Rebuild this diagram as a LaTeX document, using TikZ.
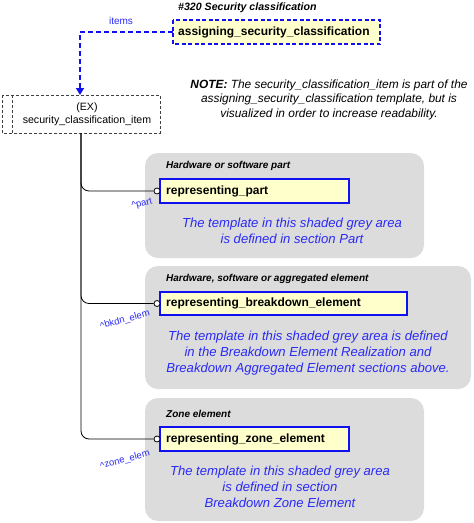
\documentclass[tikz,border=0pt]{standalone}
\usepackage{fontspec}
\setmainfont{Liberation Sans}
\usetikzlibrary{arrows.meta}
\definecolor{areagrey}{HTML}{DCDCDC}
\definecolor{boxyellow}{HTML}{FFFFCC}
\definecolor{boxblue}{HTML}{1010F0}
\definecolor{txtblue}{HTML}{2A2AF5}
\definecolor{dashgrey}{HTML}{404040}
\tikzset{
  area/.style={fill=areagrey, draw=none, rounded corners=13pt},
  tbox/.style={draw=boxblue, line width=1.2pt, fill=boxyellow, inner sep=0pt, anchor=north west},
  tboxtext/.style={anchor=west, font=\bfseries\fontsize{12}{14}\selectfont, inner sep=0pt},
  areatitle/.style={anchor=west, font=\bfseries\itshape\fontsize{10}{12}\selectfont, inner sep=0pt},
  bluenote/.style={align=center, text=txtblue, font=\itshape\fontsize{13.1}{16}\selectfont, inner sep=0pt},
  rolelabel/.style={text=txtblue, font=\fontsize{9.5}{11}\selectfont, inner sep=0pt, rotate=15},
  link/.style={draw=black, line width=0.8pt, rounded corners=8pt},
  endcirc/.style={circle, draw=black, fill=white, line width=0.8pt, minimum size=6pt, inner sep=0pt},
}
\begin{document}
\begin{tikzpicture}[x=1pt,y=-1pt]
\useasboundingbox (0,0) rectangle (474,523);
% grey areas
\fill[area] (145,153) rectangle (424,258);
\fill[area] (145,266) rectangle (471,389);
\fill[area] (145,398) rectangle (424,521);
% title
\node[anchor=west, inner sep=0pt, font=\bfseries\itshape\fontsize{10.6}{12}\selectfont] (title) at (178,8) {\#320 Security classification};
% top template box
\draw[draw=boxblue, line width=1.2pt, dashed, dash pattern=on 4pt off 2.5pt, fill=boxyellow] (173,20) rectangle (380,44);
\coordinate (asc) at (173,32);
\node[tboxtext] (asctext) at (178,32) {assigning\_security\_classification};
% items label
\node[text=txtblue, font=\fontsize{10}{12}\selectfont, inner sep=0pt] (items) at (121,21) {items};
% EX box
\draw[draw=dashgrey, line width=0.8pt, dash pattern=on 3pt off 2pt] (2,95) rectangle (160,133);
\draw[draw=dashgrey, line width=0.8pt, dash pattern=on 3pt off 2pt] (12,95) -- (12,133);
\coordinate (extop) at (80,95);
\coordinate (exbot) at (81,133);
\node[align=center, inner sep=0pt, font=\fontsize{10.6}{13}\selectfont] (ex) at (87,114) {(EX)\\security\_classification\_item};
% dashed blue connector
\draw[draw=boxblue, line width=1.5pt, dash pattern=on 5pt off 3pt, -{Triangle[length=7pt,width=8pt]}] (asc) -| (extop);
% note
\node[align=center, inner sep=0pt, font=\itshape\fontsize{11.9}{14.5}\selectfont] (note) at (329,99.5) {\textbf{NOTE:} The security\_classification\_item is part of the\\assigning\_security\_classification template, but is\\visualized in order to increase readability.};
% area 1
\node[areatitle] (t1) at (166,166) {Hardware or software part};
\draw[tbox] (160,179) rectangle (349,203);
\node[tboxtext] (b1) at (166,191) {representing\_part};
\node[endcirc] (c1) at (157,191) {};
\node[bluenote] (n1) at (292,231) {The template in this shaded grey area\\is defined in section Part};
\node[rolelabel] (r1) at (142,204) {\^{}part};
% area 2
\node[areatitle] (t2) at (166,279) {Hardware, software or aggregated element};
\draw[tbox] (160,292) rectangle (407,315);
\node[tboxtext] (b2) at (166,303.5) {representing\_breakdown\_element};
\node[endcirc] (c2) at (157,303.5) {};
\node[bluenote] (n2) at (308,353) {The template in this shaded grey area is defined\\in the Breakdown Element Realization and\\Breakdown Aggregated Element sections above.};
\node[rolelabel] (r2) at (125,320) {\^{}bkdn\_elem};
% area 3
\node[areatitle] (t3) at (166,414) {Zone element};
\draw[tbox] (160,427) rectangle (349,451);
\node[tboxtext] (b3) at (166,439) {representing\_zone\_element};
\node[endcirc] (c3) at (157,439) {};
\node[bluenote] (n3) at (280,487) {The template in this shaded grey area\\is defined in section\\Breakdown Zone Element};
\node[rolelabel] (r3) at (125,460) {\^{}zone\_elem};
% black tree connectors
\draw[link] (exbot) |- (c1.west);
\draw[link] (exbot) |- (c2.west);
\draw[link] (exbot) |- (c3.west);
\end{tikzpicture}
\end{document}
